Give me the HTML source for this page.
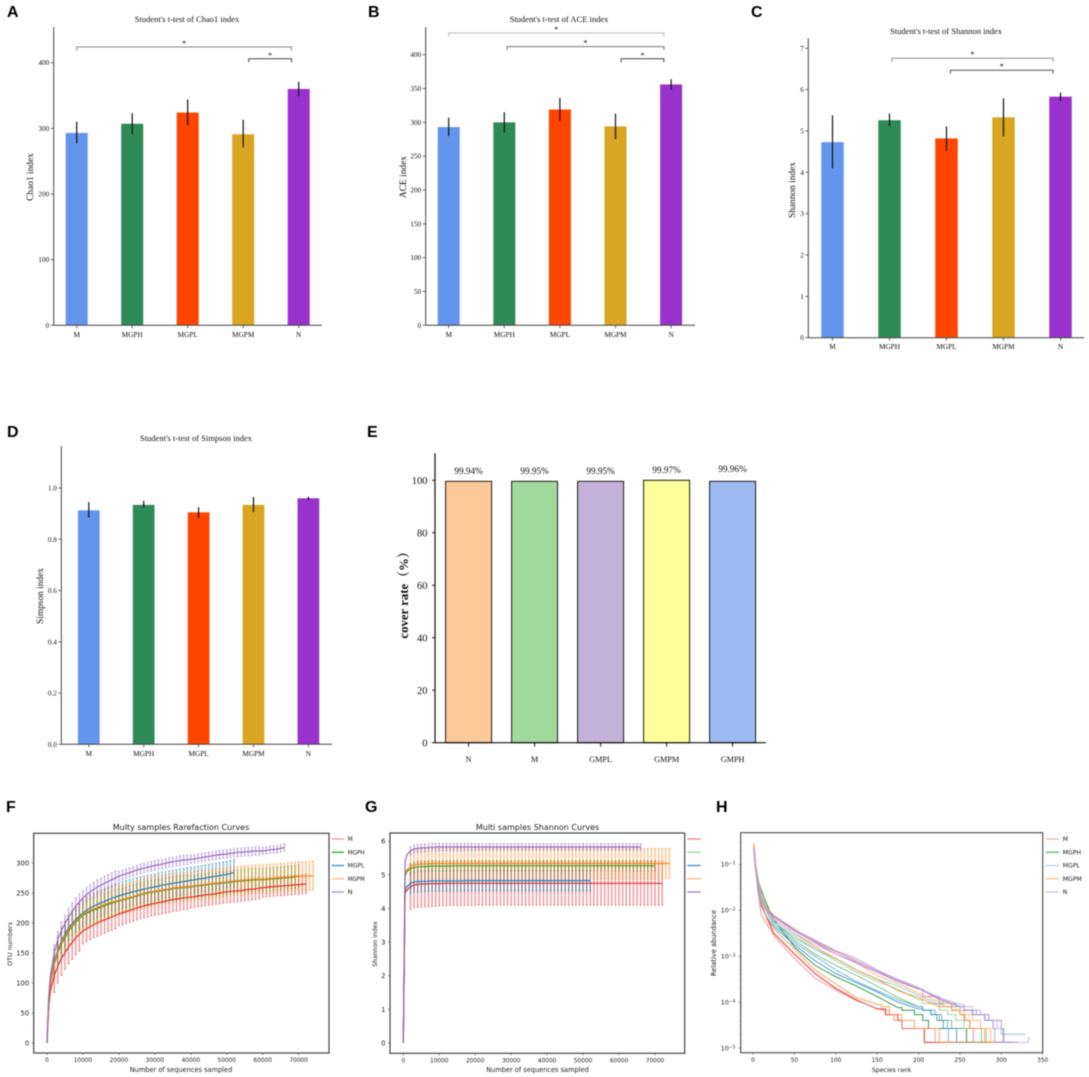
<!DOCTYPE html>
<html lang="en">
<head>
<meta charset="utf-8">
<title>Alpha diversity figure</title>
<style>
html,body{margin:0;padding:0;background:#fff;}
svg{display:block;filter:blur(0.5px);}
.serif{font-family:"Liberation Serif","Noto Serif CJK SC",serif;fill:#111;}
.sans{font-family:"DejaVu Sans","Liberation Sans",sans-serif;fill:#222;}
.letter{font-family:"Liberation Sans",sans-serif;font-weight:700;font-size:16px;fill:#000;}
</style>
</head>
<body>
<svg id="figure" xmlns="http://www.w3.org/2000/svg" width="1089" height="1077" viewBox="0 0 1089 1077">
  <rect x="0" y="0" width="1089" height="1077" fill="#fff"/>
  <text class="letter" x="7" y="17">A</text>
  <text class="letter" x="368" y="17">B</text>
  <text class="letter" x="751" y="17">C</text>
  <text class="letter" x="7" y="437">D</text>
  <text class="letter" x="367" y="437">E</text>
  <text class="letter" x="6" y="812">F</text>
  <text class="letter" x="365" y="812">G</text>
  <text class="letter" x="716" y="812">H</text>

  <g id="panel-a">
    <text class="serif" x="187" y="22" font-size="8.5" text-anchor="middle">Student's t-test of Chao1 index</text>
    <text class="serif" transform="translate(33,177) rotate(-90)" font-size="9.4" text-anchor="middle">Chao1 index</text>
  </g>
  <g id="panel-b">
    <text class="serif" x="559" y="22" font-size="8.5" text-anchor="middle">Student's t-test of ACE index</text>
    <text class="serif" transform="translate(406,177) rotate(-90)" font-size="9.4" text-anchor="middle">ACE index</text>
  </g>
  <g id="panel-c">
    <text class="serif" x="946" y="34" font-size="8.5" text-anchor="middle">Student's t-test of Shannon index</text>
    <text class="serif" transform="translate(795,190) rotate(-90)" font-size="9.4" text-anchor="middle">Shannon index</text>
  </g>
  <g id="panel-d">
    <text class="serif" x="196" y="441" font-size="8.5" text-anchor="middle">Student's t-test of Simpson index</text>
    <text class="serif" transform="translate(43,596) rotate(-90)" font-size="9.4" text-anchor="middle">Simpson index</text>
  </g>
  <g id="panel-e">
    <text class="serif" transform="translate(408,592) rotate(-90)" font-size="12.8" font-weight="700" text-anchor="middle">cover rate（%）</text>
  </g>
  <g id="panel-f">
    <text class="sans" x="181" y="830" font-size="8" text-anchor="middle">Multy samples Rarefaction Curves</text>
    <text class="sans" x="181" y="1072" font-size="6.6" text-anchor="middle">Number of sequences sampled</text>
    <text class="sans" transform="translate(12,944) rotate(-90)" font-size="6.4" text-anchor="middle">OTU numbers</text>
  </g>
  <g id="panel-g">
    <text class="sans" x="537.5" y="830" font-size="8" text-anchor="middle">Multi samples Shannon Curves</text>
    <text class="sans" x="537.5" y="1072" font-size="6.6" text-anchor="middle">Number of sequences sampled</text>
    <text class="sans" transform="translate(377,944) rotate(-90)" font-size="6.1" text-anchor="middle">Shannon index</text>
  </g>
  <g id="panel-h">
    <text class="sans" x="891.7" y="1072" font-size="6.2" text-anchor="middle">Species rank</text>
    <text class="sans" transform="translate(716,943) rotate(-90)" font-size="6.7" text-anchor="middle">Relative abundance</text>
  </g>
</svg>

<script>
// ---------- Bar chart data ----------
const categories = ["M", "MGPH", "MGPL", "MGPM", "N"];
const barColors = ["#6495ED", "#2E8B57", "#FF4500", "#DAA520", "#9932CC"];

const chao1Values = [293, 307, 324, 291, 360];
const chao1Low = [277, 291, 305, 271, 349];
const chao1High = [310, 323, 344, 313, 371];
const chao1Ticks = [0, 100, 200, 300, 400];
const chao1Brackets = [[0, 3.87, 424], [3.1, 3.87, 406]];

const aceValues = [293, 300, 319, 294, 356];
const aceLow = [280, 285, 302, 275, 348];
const aceHigh = [307, 315, 336, 313, 364];
const aceTicks = [0, 50, 100, 150, 200, 250, 300, 350, 400];
const aceBrackets = [[0, 3.87, 432], [1.05, 3.87, 412], [3.1, 3.87, 394]];

const shannonValues = [4.73, 5.26, 4.82, 5.33, 5.83];
const shannonLow = [4.1, 5.12, 4.52, 4.87, 5.72];
const shannonHigh = [5.38, 5.42, 5.11, 5.79, 5.93];
const shannonTicks = [0, 1, 2, 3, 4, 5, 6, 7];
const shannonBrackets = [[1.04, 3.87, 6.76], [2.07, 3.87, 6.47]];

const simpsonValues = [0.913, 0.934, 0.905, 0.934, 0.96];
const simpsonLow = [0.885, 0.923, 0.883, 0.906, 0.953];
const simpsonHigh = [0.945, 0.95, 0.925, 0.965, 0.966];
const simpsonTicks = [0.0, 0.2, 0.4, 0.6, 0.8, 1.0];

const coverCategories = ["N", "M", "GMPL", "GMPM", "GMPH"];
const coverValues = [99.94, 99.95, 99.95, 99.97, 99.96];
const coverHeights = [99.6, 99.6, 99.6, 100, 99.6];
const coverColors = ["#FDC998", "#A0D99C", "#C3B1D7", "#FFFF99", "#9DBBF2"];
const coverTicks = [0, 20, 40, 60, 80, 100];

// ---------- Rarefaction / Shannon curve data ----------
const seqGrid = [0,500,1000,2000,3000,4000,6000,8000,10000,12000,14000,16000,18000,20000,22000,24000,26000,28000,30000,32000,34000,36000,38000,40000,42000,44000,46000,48000,50000,52000,54000,56000,58000,60000,62000,64000,66000,68000,70000,72000,74000];
const seriesNames = ["M", "MGPH", "MGPL", "MGPM", "N"];
const curveColors = ["#e0262a", "#2ca02c", "#1f77b4", "#ff7f0e", "#9467bd"];
const legendColorsF = ["#ee9a9a", "#22aa22", "#3d8cc4", "#fbbf85", "#b18fd6"];
const legendColorsG = ["#ee8888", "#9ad99a", "#3d8cc4", "#fbb46e", "#a57fd0"];
const legendColorsH = ["#ef9f9f", "#6fbf7c", "#a9cfe2", "#fbb46e", "#c9b4e4"];

const otuM = [0,62,88,112,128,141,160,175,187,194,200,205,210,215,219,223,227,230,233,235,238,240,242,243,245,247,248,250,252,253,254,256,257,259,260,261,262,263,264,265];
const otuMGPH = [0,72,100,130,150,165,186,201,213,219,224,229,233,237,240,243,247,250,252,254,256,258,259,260,262,263,265,266,267,269,270,271,272,272,273,274,275,276,278];
const otuMGPL = [0,75,105,135,155,170,192,206,217,225,231,236,241,245,249,252,255,258,260,263,265,267,269,271,273,275,277,279,281,284];
const otuMGPM = [0,70,100,132,152,168,188,203,215,221,226,231,235,238,241,244,248,251,253,255,257,259,260,261,263,264,266,267,268,270,271,272,273,273,274,275,276,277,278,278,279];
const otuN = [0,80,115,150,172,188,210,228,242,252,260,266,272,278,282,286,290,293,296,298,301,303,305,306,308,310,312,314,315,317,318,319,320,320,322,323,326];

const sdSeq = [0, 2000, 10000, 20000, 40000, 60000];
const otuSdM = [0, 28, 22, 20, 18, 16];
const otuSdMGPH = [0, 20, 21, 20, 19, 19];
const otuSdMGPL = [0, 20, 22, 22, 22, 22];
const otuSdMGPM = [0, 25, 24, 24, 24, 24];
const otuSdN = [0, 14, 12, 8, 7, 6];

const shanM = [0,4.45,4.55,4.65,4.7,4.72,4.73,4.74,4.74,4.75,4.75,4.75,4.75,4.75,4.75,4.75,4.75,4.75,4.75,4.75,4.75,4.75,4.75,4.75,4.75,4.75,4.75,4.75,4.75,4.75,4.75,4.75,4.75,4.75,4.75,4.75,4.75,4.75,4.75,4.75];
const shanMGPH = [0,4.95,5.1,5.18,5.22,5.24,5.25,5.26,5.26,5.26,5.27,5.27,5.27,5.27,5.27,5.27,5.27,5.27,5.27,5.27,5.27,5.27,5.27,5.27,5.27,5.27,5.27,5.27,5.27,5.27,5.27,5.27,5.27,5.27,5.27,5.27,5.27,5.27,5.27];
const shanMGPL = [0,4.55,4.65,4.75,4.79,4.8,4.81,4.82,4.82,4.82,4.82,4.82,4.83,4.83,4.83,4.83,4.83,4.83,4.83,4.83,4.83,4.83,4.83,4.83,4.83,4.83,4.83,4.83,4.83,4.83];
const shanMGPM = [0,5.0,5.15,5.25,5.3,5.32,5.33,5.34,5.34,5.34,5.34,5.34,5.34,5.34,5.34,5.34,5.34,5.34,5.34,5.34,5.34,5.34,5.34,5.34,5.34,5.34,5.34,5.34,5.34,5.34,5.34,5.34,5.34,5.34,5.34,5.34,5.34,5.34,5.34,5.34,5.34];
const shanN = [0,5.4,5.6,5.72,5.77,5.79,5.81,5.82,5.83,5.83,5.83,5.83,5.83,5.83,5.83,5.83,5.83,5.83,5.83,5.83,5.83,5.83,5.83,5.83,5.83,5.83,5.83,5.83,5.83,5.83,5.83,5.83,5.83,5.83,5.83,5.83,5.83];

const shanSdM = [0, 0.68, 0.66, 0.65, 0.65, 0.65];
const shanSdMGPH = [0, 0.15, 0.15, 0.15, 0.15, 0.15];
const shanSdMGPL = [0, 0.31, 0.31, 0.31, 0.31, 0.31];
const shanSdMGPM = [0, 0.45, 0.45, 0.45, 0.45, 0.45];
const shanSdN = [0, 0.12, 0.11, 0.1, 0.1, 0.1];

const seqTicks = [0, 10000, 20000, 30000, 40000, 50000, 60000, 70000];
const otuTicks = [0, 50, 100, 150, 200, 250, 300];
const shanCurveTicks = [0, 1, 2, 3, 4, 5, 6];

// ---------- Rank abundance data (log10 abundance, then the stepped tail: [rank, read count]) ----------
const rankGrid = [1,3,6,10,15,25,50,75,100,125,150,175,200,225,250];
const rankTicks = [0, 50, 100, 150, 200, 250, 300, 350];
const logTicks = [-1, -2, -3, -4, -5];
const singletonAbundance = 1.33e-5;

const abundM1 = [-0.55,-1.0,-1.4,-1.9,-2.1,-2.5,-2.95,-3.38,-3.7,-3.95,-4.15];
const tailM1 = [[160,4],[175,3],[180,2],[207,1],[270,1]];
const abundM2 = [-0.6,-1.1,-1.6,-2.1,-2.25,-2.55,-3.05,-3.48,-3.74,-3.97,-4.14];
const tailM2 = [[155,5],[165,4],[170,3],[180,2],[220,1],[290,1]];
const abundM3 = [-0.6,-1.0,-1.3,-1.75,-1.95,-2.15,-2.42,-2.68,-2.9,-3.1,-3.32,-3.55,-3.72];
const tailM3 = [[205,10],[225,7],[240,5],[250,4],[255,3],[262,2],[266,1],[312,1]];
const abundH1 = [-0.6,-1,-1.35,-1.55,-1.8,-2.2,-2.8,-3.2,-3.45,-3.65,-3.88,-4.12];
const tailH1 = [[180,5],[195,4],[205,3],[212,2],[258,1],[300,1]];
const abundH2 = [-0.62,-1.05,-1.4,-1.7,-1.9,-2.25,-2.65,-2.95,-3.2,-3.42,-3.65,-3.9,-4.1];
const tailH2 = [[205,5],[215,4],[225,3],[240,2],[276,1],[306,1]];
const abundH3 = [-0.55,-0.95,-1.3,-1.6,-1.85,-2.25,-2.55,-2.85,-3.1,-3.35,-3.55,-3.72,-3.95];
const tailH3 = [[205,7],[225,5],[235,4],[245,3],[255,2],[282,1],[310,1]];
const abundL1 = [-0.7,-1.1,-1.5,-1.9,-2.1,-2.35,-2.75,-3.1,-3.38,-3.58,-3.78,-4.0,-4.15];
const tailL1 = [[205,5],[215,4],[222,3],[230,2],[246,1],[300,1]];
const abundL2 = [-0.65,-1.05,-1.4,-1.8,-2.0,-2.3,-2.7,-3.0,-3.3,-3.55,-3.75,-3.95,-4.1];
const tailL2 = [[205,5],[220,4],[228,3],[235,2],[236,1],[270,1]];
const abundL3 = [-0.65,-1,-1.35,-1.7,-1.9,-2.25,-2.6,-2.85,-3.05,-3.3,-3.5,-3.65,-3.85,-4.05];
const tailL3 = [[230,6],[250,5],[265,4],[280,3],[290,2],[300,1.5],[329,1.5]];
const abundP1 = [-0.55,-1,-1.4,-1.85,-2.1,-2.4,-2.85,-3.3,-3.6,-3.9,-4.05];
const tailP1 = [[155,6],[165,4],[180,3],[195,2],[225,1],[295,1]];
const abundP2 = [-0.6,-1,-1.35,-1.7,-1.95,-2.2,-2.5,-2.8,-3.05,-3.3,-3.5,-3.75,-3.9,-4.1];
const tailP2 = [[225,6],[240,5],[250,4],[256,3],[262,2],[280,1],[312,1]];
const abundP3 = [-0.6,-1,-1.35,-1.7,-1.9,-2.12,-2.4,-2.7,-2.95,-3.15,-3.42,-3.6,-3.8,-4.0];
const tailP3 = [[230,7],[245,5],[255,4],[265,3],[275,2],[287,1],[300,1]];
const abundN1 = [-0.65,-1.05,-1.4,-1.75,-1.95,-2.15,-2.45,-2.7,-2.95,-3.15,-3.35,-3.55,-3.7,-3.92,-4.1];
const tailN1 = [[255,5],[265,4],[280,3],[300,2],[303,1],[315,1]];
const abundN2 = [-0.7,-1.1,-1.45,-1.8,-2,-2.2,-2.5,-2.75,-2.95,-3.12,-3.32,-3.5,-3.68,-3.9,-4.05];
const tailN2 = [[255,6],[265,5],[275,4],[285,3],[295,2],[302,1],[333,1.3]];
const abundN3 = [-0.7,-1.1,-1.4,-1.75,-1.95,-2.1,-2.42,-2.65,-2.88,-3.05,-3.3,-3.52,-3.7,-3.95,-4.1];
const tailN3 = [[255,5],[270,4],[285,3],[290,2],[292,1],[320,1]];

// ---------- Drawing helpers ----------
const NS = "http://www.w3.org/2000/svg";
function make(parent, tag, attrs, name) {
  const el = document.createElementNS(NS, tag);
  for (const k in attrs) el.setAttribute(k, attrs[k]);
  
  
  parent.appendChild(el);
  return el;
}
function label(parent, cls, x, y, size, anchor, str, name) {
  const t = make(parent, "text", { class: cls, x: x, y: y, "font-size": size, "text-anchor": anchor }, name);
  t.textContent = str;
  return t;
}
function slug(s) { return String(s).toLowerCase().replace(/[^a-z0-9]+/g, "-"); }

function barChart(o) {
  const g = document.getElementById(o.id);
  const p = o.prefix;
  const yS = v => o.base - (v / o.refVal) * (o.base - o.refY);
  const xS = i => o.x0 + i * o.step;
  o.values.forEach((v, i) => {
    make(g, "rect", { x: xS(i) - o.w / 2, y: yS(v), width: o.w, height: o.base - yS(v), fill: barColors[i] }, p + "-bar-" + slug(categories[i]));
  });
  o.values.forEach((v, i) => {
    make(g, "line", { x1: xS(i), x2: xS(i), y1: yS(o.low[i]), y2: yS(o.high[i]), stroke: "#111", "stroke-width": 1.2 }, p + "-error-bar-" + slug(categories[i]));
  });
  make(g, "line", { x1: o.axisX, x2: o.axisX, y1: o.top, y2: o.base, stroke: "#444", "stroke-width": 1 }, p + "-y-axis-line");
  make(g, "line", { x1: o.axisX, x2: o.right, y1: o.base, y2: o.base, stroke: "#444", "stroke-width": 1 }, p + "-x-axis-line");
  o.ticks.forEach(t => {
    make(g, "line", { x1: o.axisX - 3, x2: o.axisX, y1: yS(t), y2: yS(t), stroke: "#444", "stroke-width": 0.8 }, p + "-y-tick");
    label(g, "serif", o.axisX - 4.5, yS(t) + 2.5, 7.2, "end", o.tickFmt(t), p + "-y-tick-label");
  });
  categories.forEach((c, i) => {
    make(g, "line", { x1: xS(i), x2: xS(i), y1: o.base, y2: o.base + 3, stroke: "#444", "stroke-width": 0.8 }, p + "-x-tick");
    label(g, "serif", xS(i), o.base + 11.5, 7.3, "middle", c, p + "-x-tick-label");
  });
  (o.brackets || []).forEach((b, i) => {
    const x1 = xS(b[0]), x2 = xS(b[1]), y = yS(b[2]);
    const col = (o.bracketColors || [])[i] || "#555";
    make(g, "path", { d: `M${x1} ${y + 3.5}V${y}H${x2}V${y + 3.5}`, fill: "none", stroke: col, "stroke-width": 1 }, p + "-significance-bracket");
    label(g, "serif", (x1 + x2) / 2, y - 1, 8.5, "middle", "*", p + "-significance-star");
  });
}

barChart({ id: "panel-a", prefix: "chao1", values: chao1Values, low: chao1Low, high: chao1High, ticks: chao1Ticks, brackets: chao1Brackets,
  bracketColors: ["#888", "#444"], axisX: 53.7, top: 27, base: 325.3, right: 322, refVal: 400, refY: 62.7, x0: 76.7, step: 55.5, w: 22, tickFmt: t => String(t) });
barChart({ id: "panel-b", prefix: "ace", values: aceValues, low: aceLow, high: aceHigh, ticks: aceTicks, brackets: aceBrackets,
  bracketColors: ["#bbb", "#777", "#444"], axisX: 425.7, top: 27, base: 325.3, right: 695, refVal: 400, refY: 54.7, x0: 448.7, step: 55.6, w: 22, tickFmt: t => String(t) });
barChart({ id: "panel-c", prefix: "shannon", values: shannonValues, low: shannonLow, high: shannonHigh, ticks: shannonTicks, brackets: shannonBrackets,
  bracketColors: ["#888", "#555"], axisX: 808.3, top: 38.3, base: 337.7, right: 1084, refVal: 7, refY: 48.3, x0: 832.5, step: 57, w: 22.5, tickFmt: t => String(t) });
barChart({ id: "panel-d", prefix: "simpson", values: simpsonValues, low: simpsonLow, high: simpsonHigh, ticks: simpsonTicks,
  axisX: 61.3, top: 446, base: 744.3, right: 332, refVal: 1, refY: 488, x0: 88.8, step: 54.9, w: 21.7, tickFmt: t => t.toFixed(1) });

// Panel E: cover rate
(function () {
  const g = document.getElementById("panel-e");
  const base = 742.7, axisX = 435, px100 = 262.4, x0 = 468.6, step = 66, w = 46;
  const labelLift = [7.5, 7.5, 7.5, 7.5, 9.5];
  const yS = v => base - v / 100 * px100;
  const xS = i => x0 + i * step;
  coverHeights.forEach((v, i) => {
    make(g, "rect", { x: xS(i) - w / 2, y: yS(v), width: w, height: base - yS(v), fill: coverColors[i], stroke: "#1a1a1a", "stroke-width": 1 }, "cover-bar-" + slug(coverCategories[i]));
  });
  coverValues.forEach((v, i) => {
    label(g, "serif", xS(i), yS(coverHeights[i]) - labelLift[i], 9.2, "middle", v.toFixed(2) + "%", "cover-value-label-" + slug(coverCategories[i]));
  });
  make(g, "line", { x1: axisX, x2: axisX, y1: 453.3, y2: base, stroke: "#111", "stroke-width": 1.2 }, "cover-y-axis-line");
  make(g, "line", { x1: axisX, x2: 765.7, y1: base, y2: base, stroke: "#111", "stroke-width": 1.1 }, "cover-x-axis-line");
  coverTicks.forEach(t => {
    make(g, "line", { x1: axisX - 3, x2: axisX, y1: yS(t), y2: yS(t), stroke: "#111", "stroke-width": 1 }, "cover-y-tick");
    label(g, "serif", axisX - 7.5, yS(t) + 3.6, 10.5, "end", String(t), "cover-y-tick-label");
  });
  coverCategories.forEach((c, i) => {
    make(g, "line", { x1: xS(i), x2: xS(i), y1: base, y2: base + 4, stroke: "#111", "stroke-width": 1 }, "cover-x-tick");
    label(g, "serif", xS(i), base + 19.5, 8.2, "middle", c, "cover-x-tick-label");
  });
})();

// Panels F, G: curves with error bars
function curveChart(o) {
  const g = document.getElementById(o.id);
  const p = o.prefix;
  const xS = s => o.x0 + s * (251.7 / 70000);
  const yS = v => o.y0 - v * o.pxPerUnit;
  o.series.forEach((vals, si) => {
    const sd = o.sds[si];
    const lookup = seq => { let k = 0; for (let j = 0; j < sdSeq.length; j++) if (seq >= sdSeq[j]) k = j; return sd[k]; };
    let bars = "", caps = "";
    const addBar = (seq, v) => {
      const e = lookup(seq), x = xS(seq);
      bars += `M${x.toFixed(2)} ${yS(v - e).toFixed(2)}V${yS(v + e).toFixed(2)}`;
      caps += `M${(x - 1).toFixed(2)} ${yS(v - e).toFixed(2)}h2M${(x - 1).toFixed(2)} ${yS(v + e).toFixed(2)}h2`;
    };
    for (let i = 2; i < vals.length; i++) {
      addBar(seqGrid[i], vals[i]);
      if (i + 1 < vals.length && seqGrid[i + 1] - seqGrid[i] > 1000) addBar((seqGrid[i] + seqGrid[i + 1]) / 2, (vals[i] + vals[i + 1]) / 2);
    }
    make(g, "path", { d: bars, fill: "none", stroke: curveColors[si], "stroke-width": 1.35, "stroke-opacity": 0.5 }, p + "-error-bars-" + slug(seriesNames[si]));
    make(g, "path", { d: caps, fill: "none", stroke: curveColors[si], "stroke-width": 0.8, "stroke-opacity": 0.6 }, p + "-error-caps-" + slug(seriesNames[si]));
  });
  o.series.forEach((vals, si) => {
    const pts = vals.map((v, i) => xS(seqGrid[i]).toFixed(2) + "," + yS(v).toFixed(2)).join(" ");
    make(g, "polyline", { points: pts, fill: "none", stroke: curveColors[si], "stroke-width": 1.2, "stroke-opacity": 0.95 }, p + "-curve-" + slug(seriesNames[si]));
  });
  make(g, "rect", { x: o.box[0], y: o.box[1], width: o.box[2] - o.box[0], height: o.box[3] - o.box[1], fill: "none", stroke: "#444", "stroke-width": 1.2 }, p + "-plot-frame");
  seqTicks.forEach(t => {
    make(g, "line", { x1: xS(t), x2: xS(t), y1: o.box[3], y2: o.box[3] + 2, stroke: "#444", "stroke-width": 0.6 }, p + "-x-tick");
    label(g, "sans", xS(t), o.box[3] + 9, 5.8, "middle", String(t), p + "-x-tick-label");
  });
  o.ticks.forEach(t => {
    make(g, "line", { x1: o.box[0] - 2, x2: o.box[0], y1: yS(t), y2: yS(t), stroke: "#444", "stroke-width": 0.6 }, p + "-y-tick");
    label(g, "sans", o.box[0] - 4.5, yS(t) + 2.4, o.yTickSize, "end", String(t), p + "-y-tick-label");
  });
}
curveChart({ id: "panel-f", prefix: "rarefaction", series: [otuM, otuMGPH, otuMGPL, otuMGPM, otuN], sds: [otuSdM, otuSdMGPH, otuSdMGPL, otuSdMGPM, otuSdN],
  ticks: otuTicks, x0: 47, y0: 1043, pxPerUnit: 0.6, box: [33.7, 833.3, 329, 1053], yTickSize: 6.8 });
curveChart({ id: "panel-g", prefix: "shannon-curves", series: [shanM, shanMGPH, shanMGPL, shanMGPM, shanN], sds: [shanSdM, shanSdMGPH, shanSdMGPL, shanSdMGPM, shanSdN],
  ticks: shanCurveTicks, x0: 403.3, y0: 1043, pxPerUnit: 33.62, box: [390, 833, 684.7, 1053.3], yTickSize: 6.8 });

// Legends
const legendF = document.getElementById("panel-f");
seriesNames.forEach((n, i) => {
  const y = 839 + i * 13.25;
  make(legendF, "line", { x1: 331.7, x2: 344, y1: y, y2: y, stroke: legendColorsF[i], "stroke-width": 1.3 }, "rarefaction-legend-line-" + slug(n));
  const t = label(legendF, "sans", 347.7, y + 2, 6, "start", n, "rarefaction-legend-label-" + slug(n));
  t.setAttribute("textLength", n.length > 1 ? 17 : 5);
  t.setAttribute("lengthAdjust", "spacingAndGlyphs");
});
const legendG = document.getElementById("panel-g");
seriesNames.forEach((n, i) => {
  const y = 839 + i * 13.25;
  make(legendG, "line", { x1: 687.3, x2: 700.7, y1: y, y2: y, stroke: legendColorsG[i], "stroke-width": 1.3 }, "shannon-curves-legend-line-" + slug(n));
});

// Panel H: rank abundance
(function () {
  const g = document.getElementById("panel-h");
  const xS = r => 753 + r * 0.8277;
  const yS = l => 1048 + (-5 - l) * 45.9;
  const samples = [
    [abundM1, tailM1, "#e31a1c", 0.9, "m-1"], [abundM2, tailM2, "#e87a7c", 0.75, "m-2"], [abundM3, tailM3, "#e0777a", 0.8, "m-3"],
    [abundH1, tailH1, "#1f8f3a", 0.9, "mgph-1"], [abundH2, tailH2, "#5cb96f", 0.8, "mgph-2"], [abundH3, tailH3, "#8fd09a", 0.85, "mgph-3"],
    [abundL1, tailL1, "#3c8fc2", 0.85, "mgpl-1"], [abundL2, tailL2, "#5da5d0", 0.8, "mgpl-2"], [abundL3, tailL3, "#8cc1dd", 0.9, "mgpl-3"],
    [abundP1, tailP1, "#fb9a45", 0.85, "mgpm-1"], [abundP2, tailP2, "#f88f2d", 0.85, "mgpm-2"], [abundP3, tailP3, "#fdb46f", 0.9, "mgpm-3"],
    [abundN1, tailN1, "#a57fd0", 0.85, "n-1"], [abundN2, tailN2, "#c6b0e3", 0.9, "n-2"], [abundN3, tailN3, "#b494da", 0.85, "n-3"]
  ];
  samples.forEach(s => {
    let d = "";
    s[0].forEach((v, i) => { d += (i ? "L" : "M") + xS(rankGrid[i]).toFixed(2) + " " + yS(v).toFixed(2); });
    s[1].forEach(st => {
      const level = yS(Math.log10(st[1] * singletonAbundance));
      d += "H" + xS(st[0]).toFixed(2) + "V" + level.toFixed(2);
    });
    make(g, "path", { d: d, fill: "none", stroke: s[2], "stroke-width": 1, "stroke-opacity": s[3], "stroke-linejoin": "miter" }, "rank-abundance-line-" + s[4]);
  });
  make(g, "rect", { x: 740.7, y: 832.7, width: 302, height: 220, fill: "none", stroke: "#555", "stroke-width": 1.2 }, "rank-abundance-plot-frame");
  rankTicks.forEach(t => {
    make(g, "line", { x1: xS(t), x2: xS(t), y1: 1052.7, y2: 1054.7, stroke: "#444", "stroke-width": 0.6 }, "rank-abundance-x-tick");
    label(g, "sans", xS(t), 1062, 5.8, "middle", String(t), "rank-abundance-x-tick-label");
  });
  logTicks.forEach(t => {
    make(g, "line", { x1: 738.7, x2: 740.7, y1: yS(t), y2: yS(t), stroke: "#444", "stroke-width": 0.6 }, "rank-abundance-y-tick");
    [2, 3, 4, 5, 6, 7, 8, 9].forEach(m => {
      const my = yS(t + Math.log10(m));
      if (my > 833) make(g, "line", { x1: 739.5, x2: 740.7, y1: my, y2: my, stroke: "#555", "stroke-width": 0.4 }, "rank-abundance-minor-tick");
    });
    const lab = label(g, "sans", 735.5, yS(t) + 2.3, 6.5, "end", "10", "rank-abundance-y-tick-label");
    const sup = document.createElementNS(NS, "tspan");
    sup.setAttribute("dy", "-2");
    sup.setAttribute("font-size", "4.5");
    sup.textContent = "\u2212" + Math.abs(t);
    lab.appendChild(sup);
  });
  seriesNames.forEach((n, i) => {
    const y = 839 + i * 13.25;
    make(g, "line", { x1: 1045.7, x2: 1059, y1: y, y2: y, stroke: legendColorsH[i], "stroke-width": i === 1 ? 1.5 : 1.1 }, "rank-abundance-legend-line-" + slug(n));
    label(g, "sans", 1062.7, y + 2.2, 6.2, "start", n, "rank-abundance-legend-label-" + slug(n));
  });
})();
</script>
</body>
</html>
